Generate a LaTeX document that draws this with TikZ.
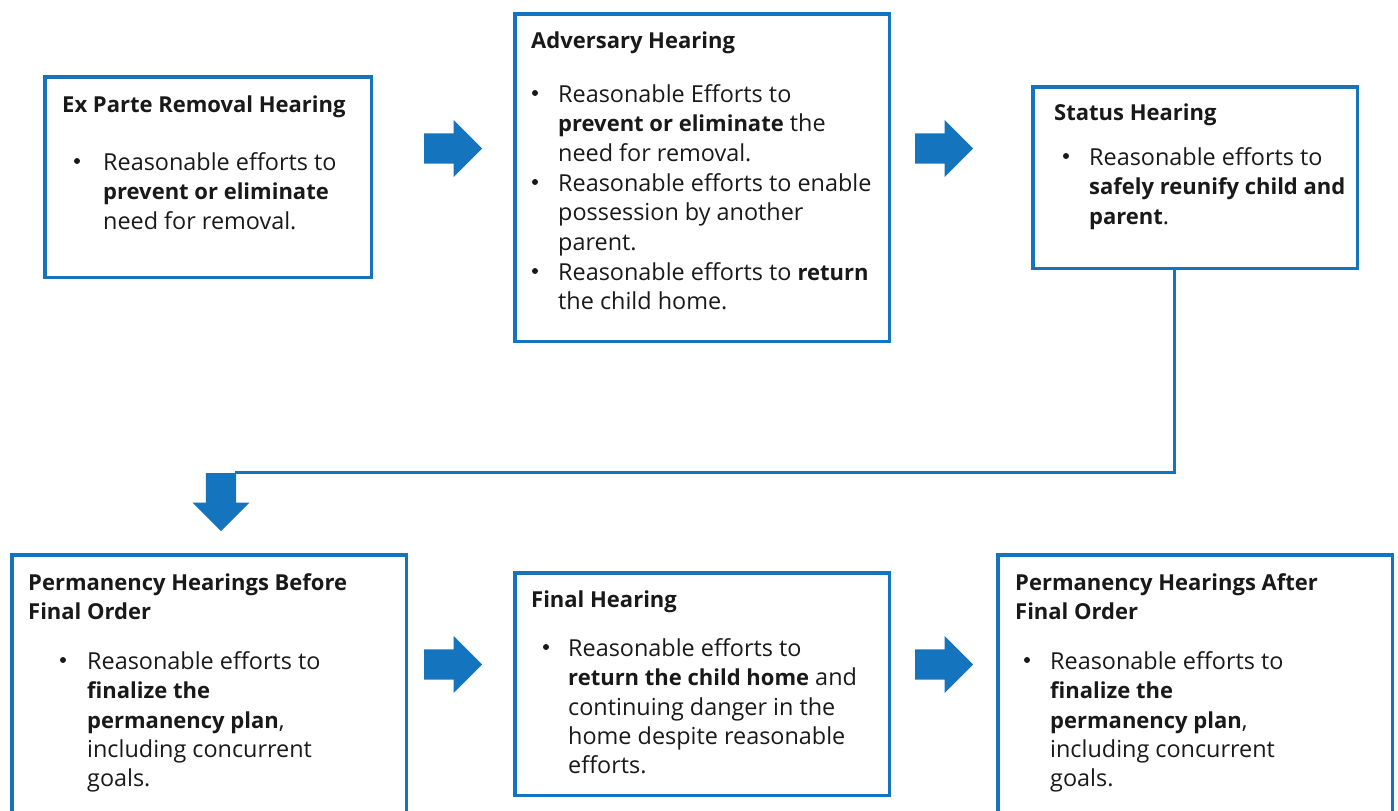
\documentclass[tikz,border=0pt]{standalone}
\usepackage{fontspec}
\setmainfont{Open Sans}
\usetikzlibrary{positioning,calc}
\usetikzlibrary{shapes.arrows}
\definecolor{hearblue}{RGB}{20,117,190}
\definecolor{inkblack}{RGB}{25,25,25}
\newcommand{\keyb}[1]{{\fontsize{22}{29.3}\selectfont\bfseries #1}}
\tikzstyle{stage} = [draw=hearblue, line width=3.5pt, anchor=north west, inner sep=0pt]
\tikzstyle{stagetitle} = [anchor=north west, align=left, inner sep=0pt, text=inkblack, font=\fontsize{22}{29.3}\selectfont\bfseries]
\tikzstyle{itemtext} = [anchor=north west, align=left, inner sep=0pt, text=inkblack, font=\fontsize{23.4}{29.3}\selectfont]
\tikzstyle{dot} = [circle, fill=inkblack, inner sep=0pt, minimum size=6pt]
\tikzstyle{fat} = [single arrow, fill=hearblue, draw=none, inner sep=0pt, text height=15pt, text depth=15pt, text width=30pt, minimum height=58pt, minimum width=57pt, single arrow head extend=13.5pt, single arrow tip angle=90, anchor=tail]
\tikzstyle{link} = [draw=hearblue, line width=3pt]

\begin{document}
\begin{tikzpicture}[x=1pt,y=-1pt]
\clip (0,0) rectangle (1398,811);
% boxes
\node[stage, minimum width=326.5pt, minimum height=200.5pt] (exparte) at (43,75) {};
\node[stage, minimum width=374.5pt, minimum height=327.5pt] (adversary) at (513,12) {};
\node[stage, minimum width=324.5pt, minimum height=181.5pt] (status) at (1031,85) {};
\node[stage, minimum width=394.5pt, minimum height=300pt] (permbefore) at (10,553) {};
\node[stage, minimum width=374.5pt, minimum height=222.5pt] (final) at (513,571) {};
\node[stage, minimum width=394.5pt, minimum height=300pt] (permafter) at (996,553) {};
% Ex Parte
\node[stagetitle] (exparte-t) at (62,95.5) {Ex Parte Removal Hearing};
\node[dot] (exparte-d) at (77,161) {};
\node[itemtext] (exparte-i) at (103,152.5) {Reasonable efforts to\\ \keyb{prevent or eliminate}\\ need for removal.};
% Adversary
\node[stagetitle] (adversary-t) at (531,31.5) {Adversary Hearing};
\node[dot] (adversary-d1) at (535,93) {};
\node[itemtext] (adversary-i1) at (558,84.5) {Reasonable Efforts to\\ \keyb{prevent or eliminate} the\\ need for removal.};
\node[dot] (adversary-d2) at (535,182) {};
\node[itemtext] (adversary-i2) at (558,173.5) {Reasonable efforts to enable\\ possession by another\\ parent.};
\node[dot] (adversary-d3) at (535,271) {};
\node[itemtext] (adversary-i3) at (558,262.5) {Reasonable efforts to \keyb{return}\\ the child home.};
% Status
\node[stagetitle] (status-t) at (1054,103.5) {Status Hearing};
\node[dot] (status-d) at (1066,156) {};
\node[itemtext] (status-i) at (1089,147.5) {Reasonable efforts to\\ \keyb{safely reunify child and}\\ \keyb{parent}.};
% Permanency before
\node[stagetitle] (permbefore-t) at (28,573.5) {Permanency Hearings Before\\ Final Order};
\node[dot] (permbefore-d) at (63,660) {};
\node[itemtext] (permbefore-i) at (87,651.5) {Reasonable efforts to\\ \keyb{finalize the}\\ \keyb{permanency plan},\\ including concurrent\\ goals.};
% Final
\node[stagetitle] (final-t) at (531,590.5) {Final Hearing};
\node[dot] (final-d) at (546,647) {};
\node[itemtext] (final-i) at (568,638.5) {Reasonable efforts to\\ \keyb{return the child home} and\\ continuing danger in the\\ home despite reasonable\\ efforts.};
% Permanency after
\node[stagetitle] (permafter-t) at (1015,573.5) {Permanency Hearings After\\ Final Order};
\node[dot] (permafter-d) at (1027,660) {};
\node[itemtext] (permafter-i) at (1050,651.5) {Reasonable efforts to\\ \keyb{finalize the}\\ \keyb{permanency plan},\\ including concurrent\\ goals.};
% arrows
\node[fat] (a1) at (424,148.5) {};
\node[fat] (a2) at (915,148.5) {};
\node[fat, shape border rotate=270] (down) at (221,473) {};
\node[fat] (a3) at (424,664.5) {};
\node[fat] (a4) at (915,664.5) {};
% status -> permanency
\coordinate (turn) at (1174,472);
\coordinate (downin) at ($(down.tail)+(14,0)$);
\draw[link] (status.south -| turn) -- (turn) -- (turn -| downin);
\end{tikzpicture}
\end{document}
